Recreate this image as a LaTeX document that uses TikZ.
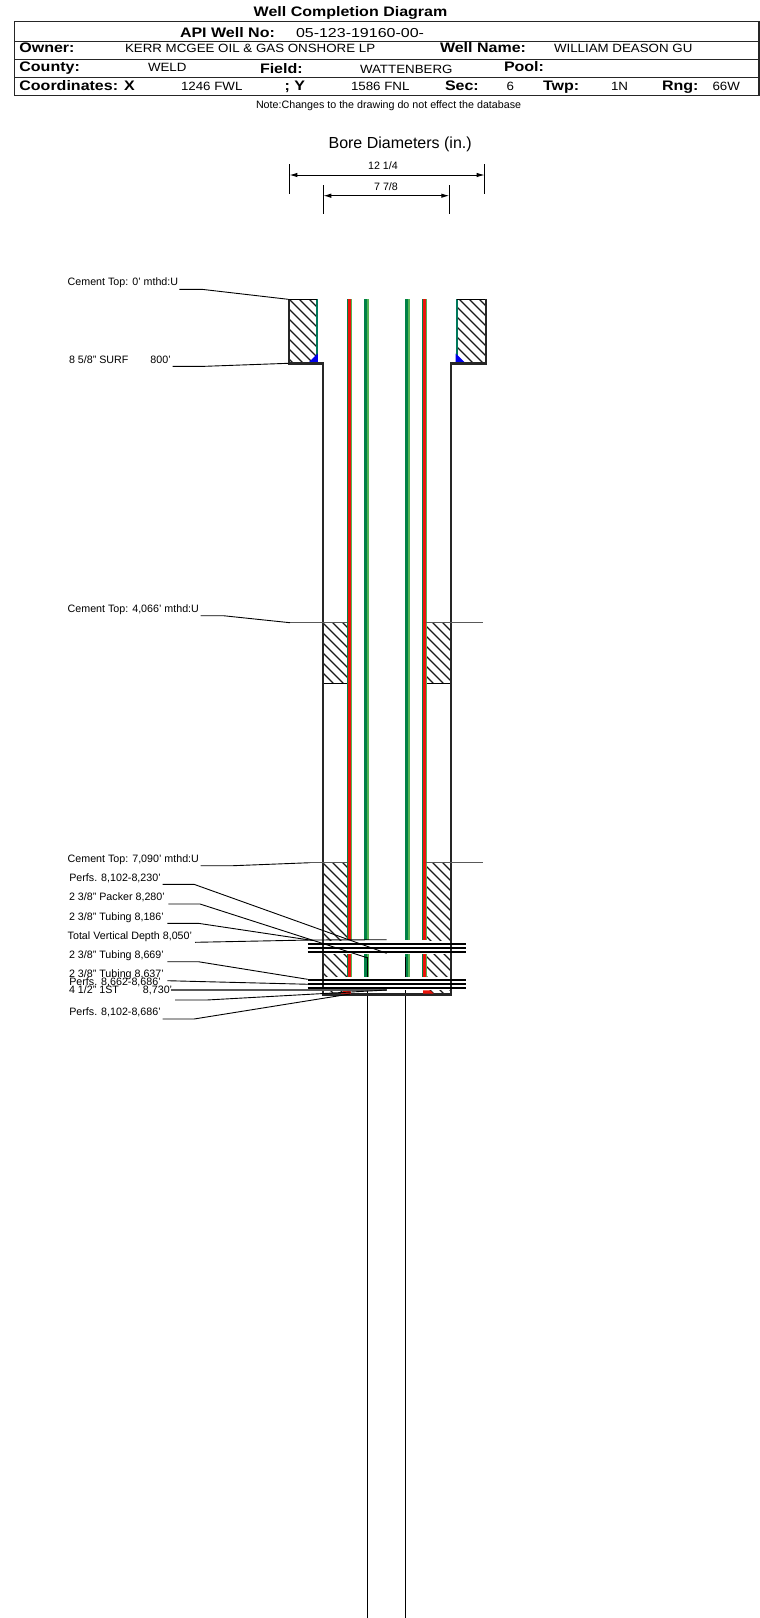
\documentclass[tikz,border=0pt]{standalone}
\usepackage{fontspec}
\setmainfont{Liberation Sans}
\usetikzlibrary{arrows.meta}
\definecolor{tubedark}{RGB}{0,130,70}
\definecolor{tubelight}{RGB}{85,180,85}
\definecolor{tubered}{RGB}{235,20,10}
\definecolor{surfgreen}{RGB}{0,120,90}
\definecolor{shoeblue}{RGB}{0,0,235}
\newcommand{\bt}[1]{\scalebox{1.16}[1]{#1}}
\newcommand{\vt}[1]{\scalebox{1.11}[1]{#1}}
\newcommand{\at}[1]{\scalebox{1.23}[1]{#1}}
\tikzset{
  txt/.style={inner sep=0pt,outer sep=0pt,anchor=base west},
  boldlbl/.style={txt,font=\fontsize{13.8}{16}\selectfont\bfseries},
  vallbl/.style={txt,font=\fontsize{12}{14}\selectfont},
  smalllbl/.style={txt,font=\fontsize{10.7}{12}\selectfont},
  leader/.style={draw=black,line width=0.9pt},
  frame/.style={draw=black!85,line width=1.3pt},
  wallline/.style={draw=black!85,line width=2.4pt},
  hatchline/.style={draw=black!90,line width=1.1pt},
  thickband/.style={draw=black,line width=2pt},
  dimline/.style={draw=black,line width=0.8pt},
  dimarrow/.style={draw=black,line width=1pt,{Latex[length=8pt,width=4.5pt]}-{Latex[length=8pt,width=4.5pt]}},
  topline/.style={draw=black!65,line width=1.2pt}
}
\newcommand{\hatchbox}[4]{%
  \begin{scope}
    \clip (#1,#2) rectangle (#3,#4);
    \pgfmathsetmacro{\hca}{10*floor((#1-#4)/10)}
    \pgfmathsetmacro{\hcb}{\hca+10}
    \pgfmathsetmacro{\hcc}{#3-#2+10}
    \foreach \hc in {\hca,\hcb,...,\hcc}{
      \draw[hatchline] ({\hc+#2},#2) -- ({\hc+#4},#4);
    }
  \end{scope}}
\newcommand{\tuberedl}[2]{%
  \fill[tubedark] (347.3,#1) rectangle (348.3,#2);
  \fill[tubered] (348.3,#1) rectangle (350.8,#2);
  \fill[tubelight] (350.8,#1) rectangle (351.4,#2);
  \fill[tubedark] (364.2,#1) rectangle (367.4,#2);
  \fill[tubelight] (367.4,#1) rectangle (368.8,#2);
  \fill[tubedark] (405,#1) rectangle (408.2,#2);
  \fill[tubelight] (408.2,#1) rectangle (409.6,#2);
  \fill[tubedark] (422.4,#1) rectangle (423.4,#2);
  \fill[tubered] (423.4,#1) rectangle (425.9,#2);
  \fill[tubelight] (425.9,#1) rectangle (426.5,#2);}
\begin{document}
\begin{tikzpicture}[x=1pt,y=-1pt]
\useasboundingbox (0,0) rectangle (760,1618);
\fill[white] (0,0) rectangle (760,1618);
% ---------- header
\node[boldlbl,anchor=base] (title) at (350.5,16.7) {\bt{Well Completion Diagram}};
\draw[frame] (14.7,21.8) rectangle (759,95.5);
\draw[frame] (14.7,41.3) -- (759,41.3);
\draw[frame] (14.7,59.3) -- (759,59.3);
\draw[frame] (14.7,77.3) -- (759,77.3);
\node[boldlbl] (apilbl) at (180,37.7) {\bt{API Well No:}};
\node[vallbl,font=\fontsize{13}{15}\selectfont] (apival) at (296,37.7) {\at{05-123-19160-00-}};
\node[boldlbl] (ownlbl) at (19.4,52.7) {\bt{Owner:}};
\node[vallbl] (ownval) at (125,52.7) {\vt{KERR MCGEE OIL \& GAS ONSHORE LP}};
\node[boldlbl] (wnlbl) at (440,52.7) {\bt{Well Name:}};
\node[vallbl] (wnval) at (554,52.7) {\vt{WILLIAM DEASON GU}};
\node[boldlbl] (coulbl) at (19.4,71.3) {\bt{County:}};
\node[vallbl] (couval) at (148,71.3) {\vt{WELD}};
\node[boldlbl] (fldlbl) at (260,73.3) {\bt{Field:}};
\node[vallbl] (fldval) at (360,73.3) {\vt{WATTENBERG}};
\node[boldlbl] (poollbl) at (504,71) {\bt{Pool:}};
\node[boldlbl] (xlbl) at (19.4,90) {\bt{Coordinates: X}};
\node[vallbl] (xval) at (181,90) {\vt{1246 FWL}};
\node[boldlbl] (ylbl) at (284.5,90) {\bt{; Y}};
\node[vallbl] (yval) at (351,90) {\vt{1586 FNL}};
\node[boldlbl] (seclbl) at (445,90) {\bt{Sec:}};
\node[vallbl] (secval) at (506.5,90) {\vt{6}};
\node[boldlbl] (twplbl) at (543,90) {\bt{Twp:}};
\node[vallbl] (twpval) at (611,90) {\vt{1N}};
\node[boldlbl] (rnglbl) at (662,90) {\bt{Rng:}};
\node[vallbl] (rngval) at (712.5,90) {\vt{66W}};
\node[smalllbl] (note) at (256,108.7) {Note:Changes to the drawing do not effect the database};
% ---------- bore diameters
\node[txt,font=\fontsize{16}{18}\selectfont] (boretitle) at (328.6,148.3) {Bore Diameters (in.)};
\node[smalllbl,anchor=base] (dimA) at (383,169) {12 1/4};
\node[smalllbl,anchor=base] (dimB) at (386,190) {7 7/8};
\coordinate (a1) at (289.4,164); \coordinate (a2) at (289.4,194);
\coordinate (a3) at (484.7,164); \coordinate (a4) at (484.7,194);
\coordinate (a5) at (289.4,175); \coordinate (a6) at (484.7,175);
\draw[dimline] (a1) -- (a2); \draw[dimline] (a3) -- (a4);
\draw[dimarrow] (a5) -- (a6);
\coordinate (b1) at (323.3,185); \coordinate (b2) at (323.3,214);
\coordinate (b3) at (449.3,185); \coordinate (b4) at (449.3,214);
\coordinate (b5) at (323.3,195.7); \coordinate (b6) at (449.3,195.7);
\draw[dimline] (b1) -- (b2); \draw[dimline] (b3) -- (b4);
\draw[dimarrow] (b5) -- (b6);
% ---------- cement
\hatchbox{288.3}{299.3}{316.7}{363}
\hatchbox{456.7}{299.3}{485.7}{363}
\hatchbox{323}{622.7}{347.3}{683.3}
\hatchbox{426}{622.7}{450.5}{683.3}
\hatchbox{323}{862.7}{347.3}{994}
\hatchbox{426}{862.7}{450.5}{994}
\draw[leader] (323,683.3) -- (347.3,683.3);
\draw[leader] (426,683.3) -- (450.5,683.3);
% ---------- tubing
\tuberedl{299.3}{940}
\tuberedl{954}{976.7}
% surface casing green and shoes
\fill[surfgreen] (315.8,299.3) rectangle (317.8,363);
\fill[surfgreen] (455.7,299.3) rectangle (457.7,363);
\fill[shoeblue] (308.5,362.5) -- (317.8,362.5) -- (317.8,353.5) -- cycle;
\fill[shoeblue] (455.7,353.5) -- (455.7,362.5) -- (465,362.5) -- cycle;
% perforation bands blanked
\fill[white] (324,940.5) rectangle (449.7,954);
\fill[white] (324,977) rectangle (449.7,990);
% inner black tube ends
\coordinate (t1) at (367.7,957); \coordinate (t2) at (367.7,976.7);
\coordinate (t3) at (405.7,957); \coordinate (t4) at (405.7,976.7);
\draw[leader] (t1) -- (t2); \draw[leader] (t3) -- (t4);
\coordinate (t5) at (367.7,990); \coordinate (t6) at (367.7,1618);
\coordinate (t7) at (405.7,990); \coordinate (t8) at (405.7,1618);
\draw[draw=black,line width=1.2pt] (t5) -- (t6);
\draw[draw=black,line width=1.2pt] (t7) -- (t8);
% ---------- bore walls
\draw[wallline] (289,363.3) -- (289,299.3);
\draw[draw=black,line width=1.2pt] (288.3,299.3) -- (316.7,299.3);
\draw[draw=black,line width=1.2pt] (456.7,299.3) -- (485.7,299.3);
\draw[wallline] (485.7,299.3) -- (485.7,363.3) -- (450.7,363.3) -- (450.7,994.3) -- (322.7,994.3) -- (322.7,363.3) -- (288,363.3);
% bottom markers
\fill[tubered] (341,993.5) -- (344,990.3) -- (350.5,990.3) -- (351,993.5) -- cycle;
\fill[tubered] (423,990.3) -- (430,990.3) -- (433.5,993.5) -- (423,993.5) -- cycle;
% ---------- cement top lines
\draw[topline] (290,622.7) -- (347.3,622.7);
\draw[topline] (426,622.7) -- (482.7,622.7);
\draw[topline] (310,862.7) -- (347.3,862.7);
\draw[topline] (426,862.7) -- (482.7,862.7);
% ---------- packer bands
\foreach \yy/\nn in {943.7/p1,947.7/p2,951.7/p3,979.7/p4,983.7/p5,987.7/p6}{
  \coordinate (\nn l) at (307.5,\yy);
  \coordinate (\nn r) at (466,\yy);
  \draw[thickband] (\nn l) -- (\nn r);
}
% ---------- left labels and leaders
\node[smalllbl] (c0) at (67.7,285.7) {Cement Top: 0' mthd:U};
\coordinate (c0a) at (179.3,289.3); \coordinate (c0b) at (201.7,289.3); \coordinate (c0c) at (288.3,299.3);
\draw[leader] (c0a) -- (c0b) -- (c0c);
\node[smalllbl] (surf) at (69,363.3) {8 5/8" SURF\hspace{22pt}800'};
\coordinate (sa) at (172.7,366.3); \coordinate (sb) at (205,366.3); \coordinate (sc) at (288.3,363.3);
\draw[leader] (sa) -- (sb) -- (sc);
\node[smalllbl] (c4) at (67.7,612.7) {Cement Top: 4,066' mthd:U};
\coordinate (c4a) at (200.7,615.7); \coordinate (c4b) at (223.3,615.7); \coordinate (c4c) at (290,622.7);
\draw[leader] (c4a) -- (c4b) -- (c4c);
\node[smalllbl] (c7) at (67.7,862.3) {Cement Top: 7,090' mthd:U};
\coordinate (c7a) at (200.7,865.7); \coordinate (c7b) at (233,865.7); \coordinate (c7c) at (310,862.7);
\draw[leader] (c7a) -- (c7b) -- (c7c);
\node[smalllbl] (pf1) at (69.3,881.7) {Perfs. 8,102-8,230'};
\coordinate (pf1a) at (162.7,884.3); \coordinate (pf1b) at (194,884.3); \coordinate (pf1c) at (386.7,953.3);
\draw[leader] (pf1a) -- (pf1b) -- (pf1c);
\node[smalllbl] (pk) at (69,900.7) {2 3/8" Packer 8,280'};
\coordinate (pka) at (168.3,904); \coordinate (pkb) at (200,904); \coordinate (pkc) at (368,958);
\draw[leader] (pka) -- (pkb) -- (pkc);
\node[smalllbl] (tb1) at (69,920) {2 3/8" Tubing 8,186'};
\coordinate (tb1a) at (167.3,923.3); \coordinate (tb1b) at (198.3,923.3); \coordinate (tb1c) at (313,940.5);
\draw[leader] (tb1a) -- (tb1b) -- (tb1c);
\node[smalllbl] (tvd) at (67.7,939) {Total Vertical Depth 8,050'};
\coordinate (tvda) at (195,942.3); \coordinate (tvdb) at (310,940); \coordinate (tvdc) at (386.7,939.7);
\draw[leader] (tvda) -- (tvdb) -- (tvdc);
\node[smalllbl] (tb2) at (69,958.3) {2 3/8" Tubing 8,669'};
\coordinate (tb2a) at (167.3,961.7); \coordinate (tb2b) at (198.3,961.7); \coordinate (tb2c) at (307.7,979.3);
\draw[leader] (tb2a) -- (tb2b) -- (tb2c);
\node[smalllbl] (tb3) at (69,977.3) {2 3/8" Tubing 8,637'};
\coordinate (tb3a) at (167.3,980.7); \coordinate (tb3b) at (198.3,981.5); \coordinate (tb3c) at (310,984.3);
\draw[leader] (tb3a) -- (tb3b) -- (tb3c);
\node[smalllbl] (pf2) at (69.3,985.7) {Perfs. 8,662-8,686'};
\coordinate (pf2a) at (170.7,990); \coordinate (pf2b) at (386.7,990);
\draw[topline] (pf2a) -- (pf2b);
\node[smalllbl] (st) at (69,993.3) {4 1/2" 1ST\hspace{24pt}8,730'};
\coordinate (sta) at (175,1000); \coordinate (stb) at (206.7,1000); \coordinate (stc) at (386.7,990);
\draw[leader] (sta) -- (stb) -- (stc);
\node[smalllbl] (pf3) at (69.3,1015.7) {Perfs. 8,102-8,686'};
\coordinate (pf3a) at (162.7,1019); \coordinate (pf3b) at (194,1019); \coordinate (pf3c) at (350,994);
\draw[leader] (pf3a) -- (pf3b) -- (pf3c);
\end{tikzpicture}
\end{document}
